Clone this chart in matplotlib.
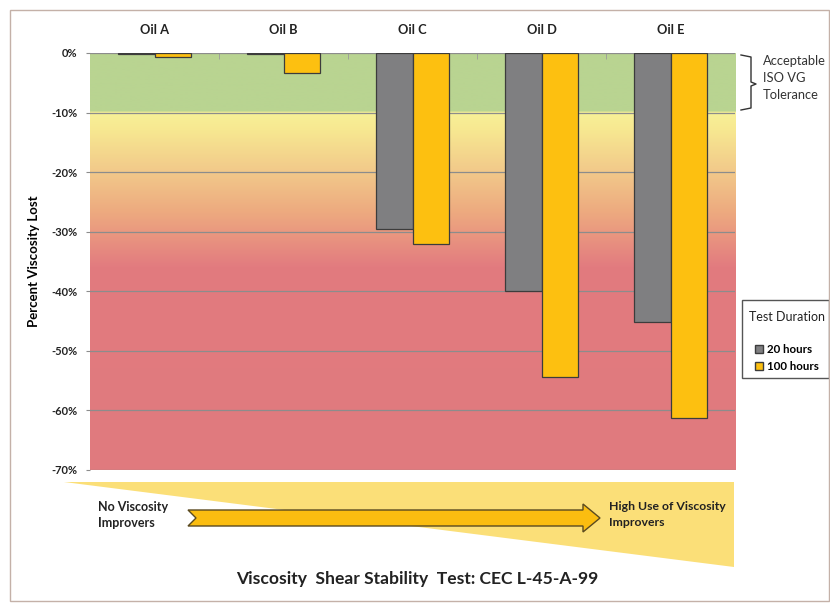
import numpy as np
import matplotlib
matplotlib.use('Agg')
import matplotlib.pyplot as plt
from matplotlib.patches import Patch, Polygon, Rectangle
from matplotlib.colors import to_rgb

plt.rcParams['font.family'] = ['Lato', 'DejaVu Sans']

# Data
oils = ['Oil A', 'Oil B', 'Oil C', 'Oil D', 'Oil E']
loss_20h = [-0.2, -0.2, -29.5, -40.0, -45.1]
loss_100h = [-0.7, -3.3, -32.0, -54.4, -61.2]
series_names = ['20 hours', '100 hours']
y_ticks = [0, -10, -20, -30, -40, -50, -60, -70]

W, H = 830, 609
fig = plt.figure(figsize=(W / 100, H / 100), dpi=100)


def px(x, y):
    # pixel position -> figure fraction
    return (x / W, 1 - y / H)


ax = fig.add_axes([90 / W, 1 - 470 / H, 645 / W, 417 / H])

# background colour bands (green tolerance zone, then yellow -> red)
ys = np.linspace(0, -70, 701)
stops_y = [0, -9.99, -10, -13, -20, -27, -31, -36, -70]
stops_c = ['#b9d491', '#b9d491', '#f8f197', '#f7e891', '#f2c98a',
           '#eda97f', '#e99480', '#e27b7f', '#e07a7e']
rgb = np.array([to_rgb(c) for c in stops_c])
grad = np.stack([np.interp(-ys, [-s for s in stops_y], rgb[:, k]) for k in range(3)], axis=1)
ax.imshow(grad[:, None, :], extent=[-0.5, 4.5, -70, 0], aspect='auto',
          interpolation='bilinear', zorder=0)

x = np.arange(len(oils))
w = 0.285
ax.bar(x - w / 2, loss_20h, w, color='#7f7f81', edgecolor='#3c3c3c', lw=0.9,
       label=series_names[0], zorder=2)
ax.bar(x + w / 2, loss_100h, w, color='#fdc010', edgecolor='#3c3c3c', lw=0.9,
       label=series_names[1], zorder=2)

ax.set_xlim(-0.5, 4.5)
ax.set_ylim(-70, 0)
ax.set_yticks(y_ticks)
ax.set_yticklabels([f'{v}%' for v in y_ticks], fontsize=8, fontweight='bold', color='#222222')
ax.yaxis.grid(True, color='#8c8c8c', lw=0.9)
ax.set_axisbelow(True)
for g in ax.get_ygridlines():
    g.set_zorder(1)
ax.tick_params(axis='y', length=3, color='#8c8c8c', pad=6)

ax.xaxis.tick_top()
ax.set_xticks(x)
ax.set_xticklabels(oils, fontsize=9.3, fontweight='bold', color='#222222')
ax.tick_params(axis='x', which='major', length=0, pad=12)
ax.set_xticks(x[:-1] + 0.5, minor=True)
ax.tick_params(axis='x', which='minor', direction='in', length=4, color='#9a9a9a')
for s in ax.spines.values():
    s.set_visible(False)

ax.set_ylabel('Percent Viscosity Lost', fontsize=9.5, fontweight='bold')
ax.yaxis.set_label_coords((40 - 90) / 645, 0.5)

# legend: frame and title drawn separately so the spacing matches
fig.add_artist(Rectangle(px(742, 378), 87 / W, 78 / H, transform=fig.transFigure,
                         facecolor='white', edgecolor='#555555', lw=1.0))
fig.text(*px(787, 317), 'Test Duration', fontsize=9, color='#222222',
         ha='center', va='center')
handles = [Patch(facecolor='#7f7f81', edgecolor='#3c3c3c'),
           Patch(facecolor='#fdc010', edgecolor='#3c3c3c')]
leg = fig.legend(handles, series_names, loc='upper left',
                 bbox_to_anchor=px(755, 344), frameon=False,
                 handlelength=0.7, handleheight=0.7, handletextpad=0.3,
                 prop={'size': 8.3, 'weight': 'bold'},
                 borderpad=0, labelspacing=0.55, borderaxespad=0)

# tolerance bracket
bx = [741, 751, 751, 756, 751, 751, 741]
by = [55, 57, 82, 84, 86, 108, 110]
fig.add_artist(plt.Line2D([v / W for v in bx], [1 - v / H for v in by],
                          color='#333333', lw=1.0))
fig.text(*px(763, 61), 'Acceptable', fontsize=9.3, color='#333333', va='center')
fig.text(*px(763, 78), 'ISO VG', fontsize=9.3, color='#333333', va='center')
fig.text(*px(763, 95), 'Tolerance', fontsize=9.3, color='#333333', va='center')

# wedge showing viscosity improver use
tri = Polygon([px(64, 482), px(734, 482), px(734, 567)], closed=True,
              transform=fig.transFigure, facecolor='#fbdf78', edgecolor='none')
fig.add_artist(tri)

# arrow
ay, sh, hh = 518, 8, 14
arrow_pts = [(188, ay - sh), (583, ay - sh), (583, ay - hh), (600, ay),
             (583, ay + hh), (583, ay + sh), (188, ay + sh), (196, ay)]
fig.add_artist(Polygon([px(*p) for p in arrow_pts], closed=True,
                       transform=fig.transFigure, facecolor='#fbbd10',
                       edgecolor='#5a4a20', lw=1.0))

fig.text(*px(98, 507), 'No Viscosity', fontsize=9, fontweight='bold', color='#222222', va='center')
fig.text(*px(98, 523), 'Improvers', fontsize=9, fontweight='bold', color='#222222', va='center')
fig.text(*px(609, 507), 'High Use of Viscosity', fontsize=8.8, fontweight='bold', color='#222222', va='center')
fig.text(*px(609, 523), 'Improvers', fontsize=8.8, fontweight='bold', color='#222222', va='center')

fig.text(*px(417, 579), 'Viscosity  Shear Stability  Test: CEC L-45-A-99', fontsize=12.6,
         fontweight='bold', color='#222222', ha='center', va='center')

# outer frame
fig.add_artist(Rectangle(px(10, 601), 819 / W, 591 / H, transform=fig.transFigure,
                         fill=False, edgecolor='#c4b1a8', lw=1.0))

fig.savefig('out.png', dpi=100)
